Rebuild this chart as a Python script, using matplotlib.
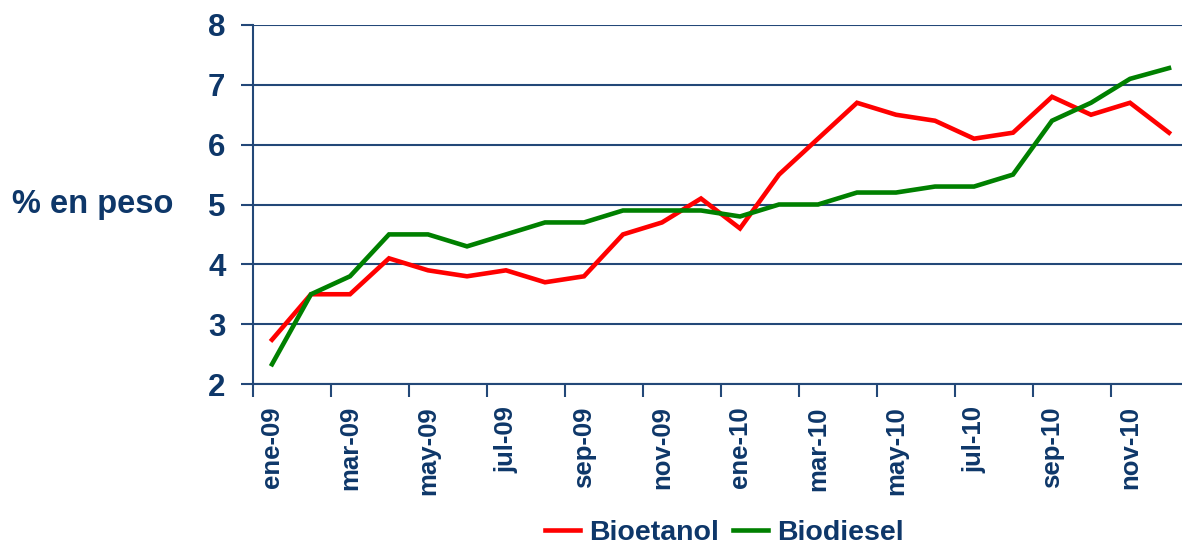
import matplotlib.pyplot as plt

meses = ["ene-09", "feb-09", "mar-09", "abr-09", "may-09", "jun-09",
         "jul-09", "ago-09", "sep-09", "oct-09", "nov-09", "dic-09",
         "ene-10", "feb-10", "mar-10", "abr-10", "may-10", "jun-10",
         "jul-10", "ago-10", "sep-10", "oct-10", "nov-10", "dic-10"]
bioetanol = [2.74, 3.5, 3.5, 4.1, 3.9, 3.8, 3.9, 3.7, 3.8, 4.5, 4.7, 5.1,
             4.6, 5.5, 6.1, 6.7, 6.5, 6.4, 6.1, 6.2, 6.8, 6.5, 6.7, 6.2]
biodiesel = [2.33, 3.5, 3.8, 4.5, 4.5, 4.3, 4.5, 4.7, 4.7, 4.9, 4.9, 4.9,
             4.8, 5.0, 5.0, 5.2, 5.2, 5.3, 5.3, 5.5, 6.4, 6.7, 7.1, 7.28]

navy = '#0E3769'
grid_col = '#234878'

plt.rcParams['font.family'] = ['Liberation Sans', 'DejaVu Sans']
plt.rcParams['font.weight'] = 'bold'

fig = plt.figure(figsize=(11.82, 5.47), dpi=100)
ax = fig.add_axes([252.5 / 1182, 163 / 547, 1 - 252.5 / 1182, 359 / 547])

x = list(range(len(meses)))
ax.plot(x, bioetanol, color='#FF0000', lw=3.3, label='Bioetanol', solid_joinstyle='miter')
ax.plot(x, biodiesel, color='#008000', lw=3.3, label='Biodiesel', solid_joinstyle='miter')

ax.set_ylim(2, 8)
ax.set_yticks(range(2, 9))
ax.set_xlim(-0.5, (1182 - 252.5) / 39.0 - 0.5)
ax.yaxis.grid(True, color=grid_col, lw=1.5)
ax.set_axisbelow(True)

# labels every two months, tick marks between categories
ax.set_xticks(x[::2])
ax.set_xticklabels(meses[::2], rotation=90, fontsize=18.5, fontweight='bold', color=navy)
ax.set_xticks([i - 0.5 for i in range(0, 24, 2)], minor=True)
ax.tick_params(axis='x', which='major', length=0, pad=16)
ax.tick_params(axis='x', which='minor', length=9, width=1.5, color=grid_col)
ax.tick_params(axis='y', length=8.5, width=1.5, color=grid_col, pad=11,
               labelsize=22.5, labelcolor=navy)
for lbl in ax.get_yticklabels():
    lbl.set_fontweight('bold')

for s in ['top', 'right']:
    ax.spines[s].set_visible(False)
for s in ['left', 'bottom']:
    ax.spines[s].set_color(grid_col)
    ax.spines[s].set_linewidth(1.5)

fig.text(12 / 1182, 1 - 205 / 547, '% en peso', fontsize=23.5, fontweight='bold',
         color=navy, ha='left', va='center')

leg = fig.legend(loc='center', bbox_to_anchor=(724 / 1182, 1 - 533 / 547), ncol=2,
                 frameon=False, fontsize=20.5, handlelength=1.25, handletextpad=0.3,
                 columnspacing=0.5)
for t in leg.get_texts():
    t.set_color(navy)
    t.set_fontweight('bold')

fig.savefig('out.png', dpi=100)
